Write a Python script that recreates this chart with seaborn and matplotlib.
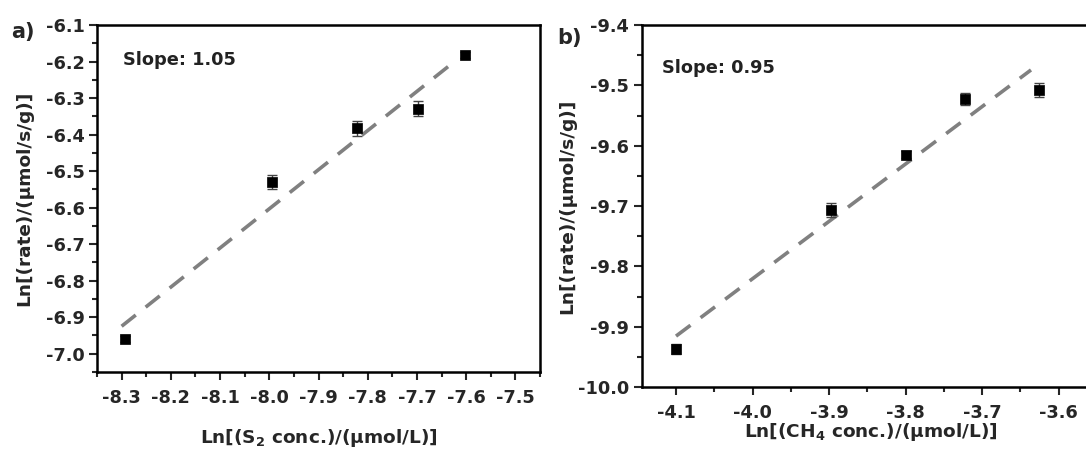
import numpy as np
import pandas as pd
import matplotlib
matplotlib.use("Agg")
import matplotlib.pyplot as plt
import seaborn as sns
from matplotlib.ticker import AutoMinorLocator

# ---- data ----
s2_x = [-8.294, -7.995, -7.821, -7.697, -7.602]
s2_y = [-6.959, -6.530, -6.383, -6.329, -6.182]
s2_err = [0.008, 0.018, 0.020, 0.020, 0.008]
s2_fit_range = [-8.30, -7.63]

ch4_x = [-4.100, -3.897, -3.800, -3.722, -3.626]
ch4_y = [-9.937, -9.707, -9.615, -9.523, -9.508]
ch4_err = [0.008, 0.012, 0.006, 0.010, 0.012]
ch4_fit_range = [-4.10, -3.636]

a_xticks = [-8.3, -8.2, -8.1, -8.0, -7.9, -7.8, -7.7, -7.6, -7.5]
a_yticks = [-7.0, -6.9, -6.8, -6.7, -6.6, -6.5, -6.4, -6.3, -6.2, -6.1]
b_xticks = [-4.1, -4.0, -3.9, -3.8, -3.7, -3.6]
b_yticks = [-10.0, -9.9, -9.8, -9.7, -9.6, -9.5, -9.4]

slope_a_text = "Slope: 1.05"
slope_b_text = "Slope: 0.95"
ylabel = "Ln[(rate)/(μmol/s/g)]"
xlabel_a = "Ln[(S$_2$ conc.)/(μmol/L)]"
xlabel_b = "Ln[(CH$_4$ conc.)/(μmol/L)]"

sns.set_style("ticks")
plt.rcParams['font.family'] = ['DejaVu Sans']
plt.rcParams['font.weight'] = 'bold'
plt.rcParams['mathtext.default'] = 'regular'
plt.rcParams['axes.labelweight'] = 'bold'

fig = plt.figure(figsize=(10.86, 4.51), dpi=100)
# pixel-derived positions
ax_a = fig.add_axes([97 / 1086, (451 - 372) / 451, 443 / 1086, 347 / 451])
ax_b = fig.add_axes([641.6 / 1086, (451 - 387) / 451, 459 / 1086, 362 / 451])

TFS = 12.8
LFS = 13.3


def draw(ax, xs, ys, errs, fit_range, xticks, yticks, xlim, ylim, slope_txt, txt_pos, xlabel):
    df = pd.DataFrame({"x": xs, "y": ys})
    coef = np.polyfit(xs, ys, 1)
    fx = np.array(fit_range)
    fit_df = pd.DataFrame({"x": fx, "y": np.polyval(coef, fx)})
    sns.lineplot(data=fit_df, x="x", y="y", ax=ax, color="#808080", lw=2.6,
                 linestyle=(0, (5, 3.5)), zorder=2)
    ax.errorbar(xs, ys, yerr=errs, fmt="none", ecolor="#444444", elinewidth=1.0,
                capsize=3.5, capthick=1.0, zorder=3)
    sns.scatterplot(data=df, x="x", y="y", ax=ax, marker="s", s=42, color="black",
                    edgecolor="black", linewidth=0.5, zorder=4)
    ax.set_xlim(*xlim)
    ax.set_ylim(*ylim)
    ax.set_xticks(xticks)
    ax.set_yticks(yticks)
    ax.set_xticklabels([f"{t:.1f}" for t in xticks])
    ax.set_yticklabels([f"{t:.1f}" for t in yticks])
    ax.xaxis.set_minor_locator(AutoMinorLocator(2))
    ax.yaxis.set_minor_locator(AutoMinorLocator(2))
    ax.tick_params(which="major", direction="out", length=6, width=1.5,
                   labelsize=TFS)
    ax.tick_params(axis="x", which="major", pad=6)
    ax.tick_params(axis="y", which="major", pad=3)
    ax.tick_params(which="minor", direction="out", length=3.5, width=1.5)
    for sp in ax.spines.values():
        sp.set_linewidth(1.8)
        sp.set_color("black")
        sp.set_visible(True)
    ax.set_xlabel(xlabel, fontsize=LFS, fontweight="bold")
    ax.set_ylabel(ylabel, fontsize=LFS, fontweight="bold")
    ax.text(txt_pos[0], txt_pos[1], slope_txt, transform=ax.transAxes,
            fontsize=TFS, fontweight="bold", ha="left", va="center", color="#222222")


draw(ax_a, s2_x, s2_y, s2_err, s2_fit_range, a_xticks, a_yticks,
     (-8.35, -7.45), (-7.05, -6.1), slope_a_text, (0.058, 0.899), xlabel_a)
draw(ax_b, ch4_x, ch4_y, ch4_err, ch4_fit_range, b_xticks, b_yticks,
     (-4.145, -3.545), (-10.0, -9.4), slope_b_text, (0.044, 0.881), xlabel_b)

for ax, ylab_x, xlab_y in [(ax_a, -0.164, -0.19), (ax_b, -0.1625, -0.124)]:
    ax.xaxis.set_label_coords(0.5, xlab_y)
    ax.xaxis.label.set_va("center")
    ax.yaxis.set_label_coords(ylab_x, 0.5)
    ax.yaxis.label.set_va("center")

fig.text(0.010, 0.929, "a)", fontsize=15, fontweight="bold", va="center", ha="left")
fig.text(0.513, 0.915, "b)", fontsize=15, fontweight="bold", va="center", ha="left")

fig.savefig("out.png", dpi=100)
